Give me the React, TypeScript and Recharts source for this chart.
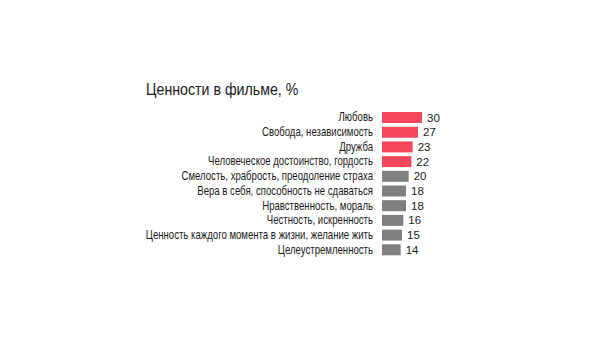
import React from "react";
import { BarChart, Bar, XAxis, YAxis, Cell, LabelList } from "recharts";

const categories = [
  "Любовь",
  "Свобода, независимость",
  "Дружба",
  "Человеческое достоинство, гордость",
  "Смелость, храбрость, преодоление страха",
  "Вера в себя, способность не сдаваться",
  "Нравственность, мораль",
  "Честность, искренность",
  "Ценность каждого момента в жизни, желание жить",
  "Целеустремленность",
];
const values = [30, 27, 23, 22, 20, 18, 18, 16, 15, 14];
const highlighted = [true, true, true, true, false, false, false, false, false, false];

const RED = "#f5475b";
const GREY = "#808080";
const FONT = "'Liberation Sans', Arial, sans-serif";
const SQUEEZE = 0.8;

// narrow-looking category labels: regular font squeezed horizontally
const NarrowTick = (props: any) => {
  const { x, y, payload } = props;
  return (
    <g transform={`translate(${x - 1},${y}) scale(${SQUEEZE},1)`}>
      <text x={0} y={0} dy={4} textAnchor="end" fontSize={12} fill="#1a1a1a" fontFamily={FONT}>
        {payload.value}
      </text>
    </g>
  );
};

export default function App() {
  const data = categories.map((name, i) => ({ name, value: values[i], hi: highlighted[i] }));

  return (
    <div style={{ position: "absolute", left: 0, top: 0, width: 599, height: 364, background: "#fff", fontFamily: FONT }}>
      <div
        style={{
          position: "absolute",
          left: 146,
          top: 80,
          fontSize: 16.5,
          color: "#1a1a1a",
          fontFamily: FONT,
          whiteSpace: "nowrap",
          transform: "scaleX(0.86)",
          transformOrigin: "left top",
        }}
      >
        Ценности в фильме, %
      </div>
      <BarChart
        width={599}
        height={364}
        data={data}
        layout="vertical"
        margin={{ top: 110, right: 177, bottom: 107, left: 0 }}
        barCategoryGap={2}
      >
        <XAxis type="number" domain={[0, 30]} hide />
        <YAxis
          type="category"
          dataKey="name"
          width={382}
          axisLine={false}
          tickLine={false}
          interval={0}
          tick={<NarrowTick />}
        />
        <Bar dataKey="value" barSize={11} isAnimationActive={false}>
          {data.map((d, i) => (
            <Cell key={i} fill={d.hi ? RED : GREY} />
          ))}
          <LabelList dataKey="value" position="right" offset={5} fill="#1a1a1a" fontSize={11.5} fontFamily={FONT} />
        </Bar>
      </BarChart>
    </div>
  );
}
